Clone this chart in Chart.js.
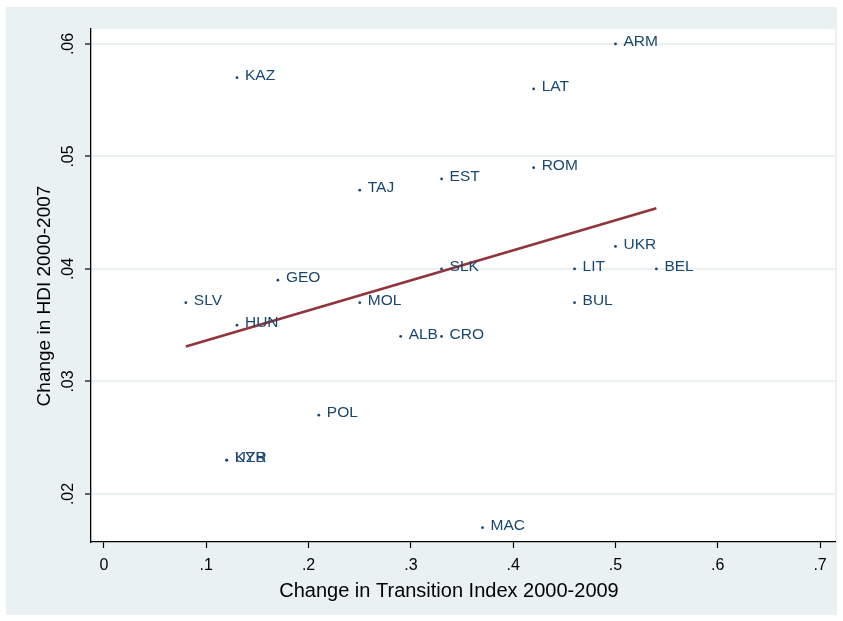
<!DOCTYPE html>
<html>
<head>
<meta charset="utf-8">
<style>
  html, body { margin: 0; padding: 0; background: #ffffff; }
  #wrap { width: 843px; height: 621px; }
</style>
<script src="https://cdn.jsdelivr.net/npm/chart.js@4.4.1/dist/chart.umd.min.js"></script>
</head>
<body>
<div id="wrap"><canvas id="c" width="843" height="621"></canvas></div>
<script>
// Country codes and their changes
const countries = ["ARM","KAZ","LAT","ROM","EST","TAJ","UKR","SLK","LIT","BEL","GEO","SLV","MOL","BUL","HUN","ALB","CRO","POL","KYR","UZB","MAC"];
const transitionChange = [0.50,0.13,0.42,0.42,0.33,0.25,0.50,0.33,0.46,0.54,0.17,0.08,0.25,0.46,0.13,0.29,0.33,0.21,0.12,0.12,0.37];
const hdiChange = [0.060,0.057,0.056,0.049,0.048,0.047,0.042,0.040,0.040,0.040,0.039,0.037,0.037,0.037,0.035,0.034,0.034,0.027,0.023,0.023,0.017];

// Fitted line end points
const fitX = [0.08, 0.54];
const fitY = [0.0331, 0.0454];

// Axis ticks
const xTicks = [0, 0.1, 0.2, 0.3, 0.4, 0.5, 0.6, 0.7];
const xTickLabels = ["0", ".1", ".2", ".3", ".4", ".5", ".6", ".7"];
const yTicks = [0.02, 0.03, 0.04, 0.05, 0.06];
const yTickLabels = [".02", ".03", ".04", ".05", ".06"];

const xTitle = "Change in Transition Index 2000-2009";
const yTitle = "Change in HDI 2000-2007";

const FONT = '"Liberation Sans", Arial, sans-serif';
const NAVY = "#1a476f";
const FIT = "#90353b";
const REGION = "#eaf1f3";

const backdrop = {
  id: "backdrop",
  beforeDraw(chart) {
    const ctx = chart.ctx, a = chart.chartArea;
    ctx.save();
    ctx.fillStyle = "#ffffff";
    ctx.fillRect(0, 0, chart.width, chart.height);
    ctx.fillStyle = REGION;
    ctx.fillRect(6, 7, 831, 608);
    ctx.fillStyle = "#ffffff";
    ctx.fillRect(a.left, a.top, a.right - a.left, a.bottom - a.top);
    ctx.restore();
  }
};

const texts = {
  id: "texts",
  afterDraw(chart) {
    const ctx = chart.ctx;
    const xs = chart.scales.x, ys = chart.scales.y;
    ctx.save();
    ctx.fillStyle = "#000000";
    // x tick labels
    ctx.font = "16px " + FONT;
    ctx.textAlign = "center";
    ctx.textBaseline = "middle";
    xTicks.forEach((v, i) => ctx.fillText(xTickLabels[i], xs.getPixelForValue(v), 566));
    // y tick labels, rotated
    yTicks.forEach((v, i) => {
      ctx.save();
      ctx.translate(69, ys.getPixelForValue(v));
      ctx.rotate(-Math.PI / 2);
      ctx.fillText(yTickLabels[i], 0, 0);
      ctx.restore();
    });
    // axis titles
    ctx.font = "20px " + FONT;
    ctx.fillText(xTitle, 449, 591);
    ctx.font = "19px " + FONT;
    ctx.save();
    ctx.translate(45, 296);
    ctx.rotate(-Math.PI / 2);
    ctx.fillText(yTitle, 0, 0);
    ctx.restore();
    // point labels
    ctx.font = "15.5px " + FONT;
    ctx.fillStyle = NAVY;
    ctx.textAlign = "left";
    const meta = chart.getDatasetMeta(0);
    meta.data.forEach((pt, i) => ctx.fillText(countries[i], pt.x + 8, pt.y - 2));
    ctx.restore();
  }
};

new Chart(document.getElementById("c"), {
  type: "scatter",
  data: {
    datasets: [
      {
        label: "countries",
        data: transitionChange.map((x, i) => ({ x: x, y: hdiChange[i] })),
        pointRadius: 1.4,
        pointHoverRadius: 1.4,
        pointBackgroundColor: NAVY,
        pointBorderWidth: 0,
        showLine: false,
        order: 2
      },
      {
        label: "fit",
        type: "line",
        data: fitX.map((x, i) => ({ x: x, y: fitY[i] })),
        borderColor: FIT,
        borderWidth: 2.6,
        pointRadius: 0,
        fill: false,
        order: 1
      }
    ]
  },
  options: {
    responsive: false,
    animation: false,
    events: [],
    layout: { padding: { left: 0, top: 29, right: 8, bottom: 0 } },
    plugins: { legend: { display: false }, tooltip: { enabled: false } },
    scales: {
      x: {
        type: "linear",
        min: -0.0127,
        max: 0.7146,
        afterBuildTicks: s => { s.ticks = xTicks.map(v => ({ value: v })); },
        afterFit: s => { s.height = 79; },
        ticks: { display: false },
        grid: { drawOnChartArea: false, drawTicks: true, tickLength: 6, tickColor: "#000000", tickWidth: 1.2 },
        border: { display: true, color: "#000000", width: 1.3 }
      },
      y: {
        type: "linear",
        min: 0.01573,
        max: 0.06133,
        afterBuildTicks: s => { s.ticks = yTicks.map(v => ({ value: v })); },
        afterFit: s => { s.width = 91; },
        ticks: { display: false },
        grid: { drawOnChartArea: true, color: REGION, lineWidth: 2, drawTicks: true, tickLength: 6, tickColor: "#000000", tickWidth: 1.2 },
        border: { display: true, color: "#000000", width: 1.3 }
      }
    }
  },
  plugins: [backdrop, texts]
});
</script>
</body>
</html>
